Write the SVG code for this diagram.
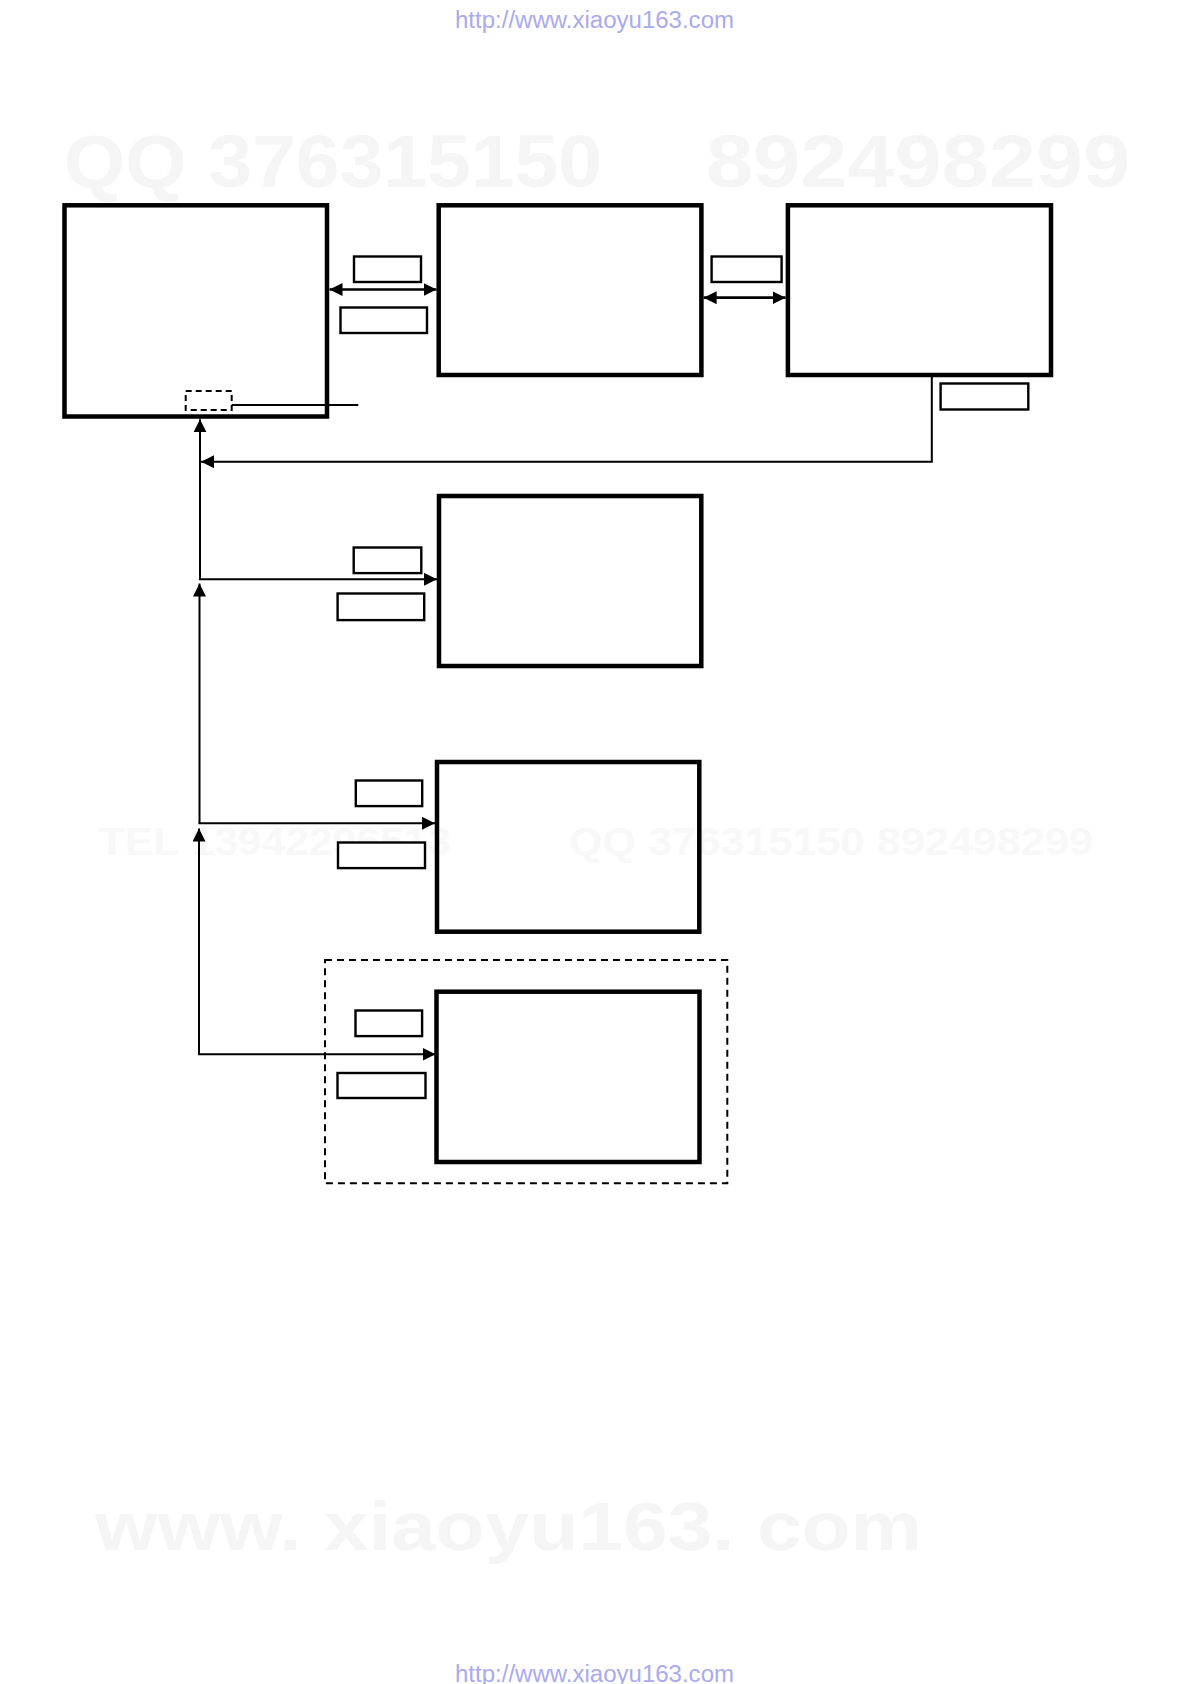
<svg xmlns="http://www.w3.org/2000/svg" width="1190" height="1684" viewBox="0 0 1190 1684">
<style>
.box{fill:none;stroke:#000;stroke-width:4.5}
.lbl{fill:#fff;stroke:#000;stroke-width:2.4}
.con{fill:none;stroke:#000;stroke-width:2}
.dbl{fill:none;stroke:#000;stroke-width:2.7}
.url{font-family:"Liberation Sans",Arial,sans-serif;font-size:23px;fill:#aaaaee}
.wm{font-family:"Liberation Sans",Arial,sans-serif;font-weight:bold;fill:#f5f5f5}
.wm2{font-family:"Liberation Sans",Arial,sans-serif;font-weight:bold;fill:#f8f8f8}
</style>
<defs>
<marker id="ah" markerUnits="userSpaceOnUse" markerWidth="14" markerHeight="14" refX="13" refY="6.5" orient="auto-start-reverse">
<path d="M0,0 L13,6.5 L0,13 z" fill="#000"/>
</marker>
</defs>
<rect width="1190" height="1684" fill="#fff"/>
<g id="watermarks">
<text class="wm" x="64" y="187" font-size="75" textLength="538" lengthAdjust="spacingAndGlyphs">QQ 376315150</text>
<text class="wm" x="706" y="187" font-size="75" textLength="424" lengthAdjust="spacingAndGlyphs">892498299</text>
<text class="wm2" x="99" y="855" font-size="38" textLength="352" lengthAdjust="spacingAndGlyphs">TEL 13942296513</text>
<text class="wm2" x="569" y="855" font-size="38" textLength="524" lengthAdjust="spacingAndGlyphs">QQ  376315150  892498299</text>
<text class="wm" x="95" y="1550" font-size="68" textLength="827" lengthAdjust="spacingAndGlyphs">www. xiaoyu163. com</text>
</g>
<text class="url" x="455" y="28" textLength="279" lengthAdjust="spacingAndGlyphs">http://www.xiaoyu163.com</text>
<text class="url" x="455" y="1682" textLength="279" lengthAdjust="spacingAndGlyphs">http://www.xiaoyu163.com</text>
<g id="connectors">
<line class="dbl" x1="329.5" y1="289.5" x2="436.5" y2="289.5" marker-start="url(#ah)" marker-end="url(#ah)"/>
<line class="dbl" x1="703.6" y1="297.7" x2="785.6" y2="297.7" marker-start="url(#ah)" marker-end="url(#ah)"/>
<polyline class="con" points="931.8,377 931.8,461.7 201,461.7" marker-end="url(#ah)"/>
<line class="con" x1="231.7" y1="405" x2="358.3" y2="405"/>
<line class="con" x1="200" y1="579.3" x2="200" y2="419.3" marker-end="url(#ah)"/>
<line class="con" x1="199" y1="579.3" x2="437" y2="579.3" marker-end="url(#ah)"/>
<line class="con" x1="199.5" y1="823.3" x2="199.5" y2="583.5" marker-end="url(#ah)"/>
<line class="con" x1="198.5" y1="823.3" x2="435" y2="823.3" marker-end="url(#ah)"/>
<line class="con" x1="199" y1="1054.3" x2="199" y2="828.5" marker-end="url(#ah)"/>
<line class="con" x1="198" y1="1054.3" x2="435.5" y2="1054.3" marker-end="url(#ah)"/>
</g>
<g id="group-dashed">
<rect x="325" y="960" width="402.3" height="223.3" fill="none" stroke="#000" stroke-width="2" stroke-dasharray="7,5"/>
</g>
<g id="node1">
<rect class="box" x="64.5" y="205.3" width="262.5" height="211.2"/>
<rect x="185.7" y="391" width="46" height="19" fill="none" stroke="#000" stroke-width="2" stroke-dasharray="6,4"/>
</g>
<g id="node2"><rect class="box" x="438.7" y="205.3" width="262.7" height="169.7"/></g>
<g id="node3"><rect class="box" x="787.9" y="205.3" width="263.1" height="169.7"/></g>
<g id="node4"><rect class="box" x="439" y="496" width="262.3" height="170"/></g>
<g id="node5"><rect class="box" x="437" y="762" width="262.3" height="169.7"/></g>
<g id="node6"><rect class="box" x="436.5" y="991.7" width="263" height="170.3"/></g>
<g id="labels">
<rect class="lbl" x="354" y="256.5" width="67" height="25.5"/>
<rect class="lbl" x="340.5" y="307.5" width="86.5" height="25.5"/>
<rect class="lbl" x="711.6" y="256.5" width="70" height="25.5"/>
<rect class="lbl" x="940.6" y="383.5" width="87.7" height="26"/>
<rect class="lbl" x="353.7" y="547.5" width="67.6" height="25.6"/>
<rect class="lbl" x="337.6" y="593.5" width="86.6" height="26.6"/>
<rect class="lbl" x="355.8" y="780.5" width="66.4" height="25.6"/>
<rect class="lbl" x="338" y="842.5" width="87" height="25.6"/>
<rect class="lbl" x="355.5" y="1010.5" width="66.6" height="25.6"/>
<rect class="lbl" x="337.5" y="1073" width="88" height="25"/>
</g>
</svg>
